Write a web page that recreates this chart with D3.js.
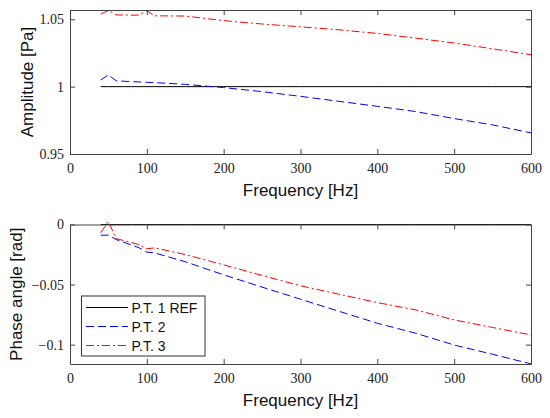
<!DOCTYPE html>
<html>
<head>
<meta charset="utf-8">
<script src="https://cdn.jsdelivr.net/npm/d3@7"></script>
<style>
  body { margin: 0; background: #fff; }
  .tick text { font-family: "Liberation Serif", serif; font-size: 14px; fill: #222; }
  .lbl { font-family: "Liberation Sans", Arial, sans-serif; font-size: 17px; fill: #111; }
  .leg { font-family: "Liberation Sans", Arial, sans-serif; font-size: 14px; fill: #111; }
</style>
</head>
<body>
<svg id="chart" width="550" height="418"></svg>
<script>
// frequencies in Hz
var freq = [40, 50, 60, 70, 80, 90, 100, 110, 150, 200, 250, 300, 350, 400, 450, 500, 550, 600];

// amplitude [Pa]
var ampRef = [1, 1, 1, 1, 1, 1, 1, 1, 1, 1, 1, 1, 1, 1, 1, 1, 1, 1];
var ampPT2 = [1.0050, 1.0087, 1.0044, 1.0040, 1.0037, 1.0035, 1.0032, 1.0030, 1.0017, 0.9993, 0.9963, 0.9928, 0.9891, 0.9854, 0.9815, 0.9763, 0.9716, 0.9657];
var ampPT3 = [1.0539, 1.0565, 1.0532, 1.0532, 1.0530, 1.0532, 1.0563, 1.0526, 1.0524, 1.0490, 1.0465, 1.0444, 1.0422, 1.0395, 1.0360, 1.0324, 1.0281, 1.0237];

// phase angle [rad]
var phRef = [0, 0, 0, 0, 0, 0, 0, 0, 0, 0, 0, 0, 0, 0, 0, 0, 0, 0];
var phPT2 = [-0.0089, -0.0089, -0.0125, -0.0148, -0.0170, -0.0194, -0.0230, -0.0236, -0.0310, -0.0419, -0.0521, -0.0622, -0.0722, -0.0822, -0.0905, -0.1003, -0.1080, -0.1160];
var phPT3 = [-0.0069, 0.0025, -0.0117, -0.0134, -0.0150, -0.0167, -0.0203, -0.0194, -0.0250, -0.0336, -0.0424, -0.0510, -0.0580, -0.0650, -0.0711, -0.0794, -0.0857, -0.0919];

var xTicks = [0, 100, 200, 300, 400, 500, 600];
var ampTicks = [0.95, 1, 1.05];
var phTicks = [-0.1, -0.05, 0];
var seriesNames = ["P.T. 1 REF", "P.T. 2", "P.T. 3"];

var styles = [
  {color: "#000000", dash: null},
  {color: "#0000ff", dash: "8,4"},
  {color: "#ff0000", dash: "8,3,2,3"}
];

var svg = d3.select("#chart");
var left = 70, right = 531;

function drawPanel(top, bottom, yDomain, yTicks, yFmt, series, yLabel, yLabelX) {
  var x = d3.scaleLinear().domain([0, 600]).range([left, right]);
  var y = d3.scaleLinear().domain(yDomain).range([bottom, top]);
  var g = svg.append("g");

  // lines
  var line = d3.line()
    .x(function(d, i) { return x(freq[i]); })
    .y(function(d) { return y(d); });
  series.forEach(function(s, i) {
    g.append("path")
      .attr("d", line(s))
      .attr("fill", "none")
      .attr("stroke", styles[i].color)
      .attr("stroke-width", 1)
      .attr("stroke-dasharray", styles[i].dash);
  });

  // axes, ticks inward, box on
  var tl = 5;
  var ax = [
    d3.axisBottom(x).tickValues(xTicks).tickSizeInner(-tl).tickSizeOuter(0).tickPadding(9),
    d3.axisTop(x).tickValues(xTicks).tickSizeInner(-tl).tickSizeOuter(0).tickFormat(""),
    d3.axisLeft(y).tickValues(yTicks).tickSizeInner(-tl).tickSizeOuter(0).tickPadding(6).tickFormat(yFmt),
    d3.axisRight(y).tickValues(yTicks).tickSizeInner(-tl).tickSizeOuter(0).tickFormat("")
  ];
  var tr = ["translate(0," + bottom + ")", "translate(0," + top + ")",
            "translate(" + left + ",0)", "translate(" + right + ",0)"];
  ax.forEach(function(a, i) {
    var ag = g.append("g").attr("transform", tr[i]).call(a);
    ag.selectAll("path, line").attr("stroke", "#444");
  });

  g.append("text").attr("class", "lbl")
    .attr("x", (left + right) / 2).attr("y", bottom + 42)
    .attr("text-anchor", "middle").text("Frequency [Hz]");
  g.append("text").attr("class", "lbl")
    .attr("transform", "translate(" + yLabelX + "," + ((top + bottom) / 2) + ") rotate(-90)")
    .attr("text-anchor", "middle").text(yLabel);
  return {x: x, y: y, g: g};
}

var fmtAmp = function(d) { return d === 1 ? "1" : d3.format(".2f")(d); };
var fmtPh = function(d) { return d === 0 ? "0" : "\u2212" + String(Math.abs(d)); };

drawPanel(10, 154, [0.95, 1.0569], ampTicks, fmtAmp, [ampRef, ampPT2, ampPT3], "Amplitude [Pa]", 33);
drawPanel(224.5, 364, [-0.1161, 0], phTicks, fmtPh, [phRef, phPT2, phPT3], "Phase angle [rad]", 22);

// legend
var leg = svg.append("g");
leg.append("rect")
  .attr("x", 81.5).attr("y", 296).attr("width", 123.5).attr("height", 60)
  .attr("fill", "#fff").attr("stroke", "#333").attr("stroke-width", 1);
seriesNames.forEach(function(name, i) {
  var ly = 307.5 + i * 19;
  leg.append("line")
    .attr("x1", 86).attr("x2", 128).attr("y1", ly).attr("y2", ly)
    .attr("stroke", styles[i].color).attr("stroke-width", 1)
    .attr("stroke-dasharray", styles[i].dash);
  leg.append("text").attr("class", "leg")
    .attr("x", 131.5).attr("y", ly + 5).text(name);
});
</script>
</body>
</html>
